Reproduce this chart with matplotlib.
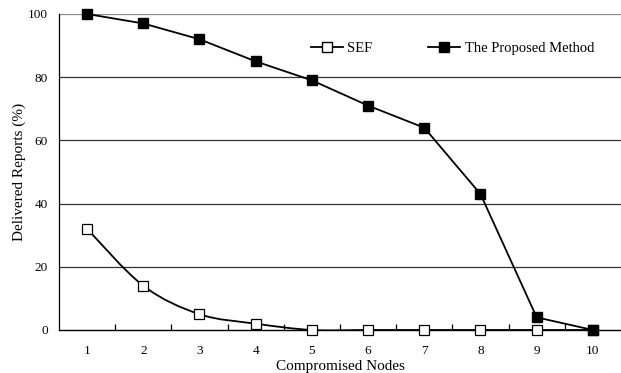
import matplotlib.pyplot as plt
import numpy as np
from matplotlib.path import Path
from matplotlib.patches import PathPatch
from matplotlib.lines import Line2D

plt.rcParams["font.family"] = ["Liberation Serif", "DejaVu Serif"]

nodes = [1, 2, 3, 4, 5, 6, 7, 8, 9, 10]
sef = [32, 14, 5, 2, 0, 0, 0, 0, 0, 0]
proposed = [100, 97, 92, 85, 79, 71, 64, 43, 4, 0]
y_ticks = [0, 20, 40, 60, 80, 100]


def smooth_path(xs, ys, t=0.5):
    # excel style smoothed line: cubic bezier through every point
    xs = np.asarray(xs, float)
    ys = np.asarray(ys, float)
    verts = [(xs[0], ys[0])]
    codes = [Path.MOVETO]
    n = len(xs)
    for i in range(n - 1):
        p0 = (xs[max(i - 1, 0)], ys[max(i - 1, 0)])
        p1 = (xs[i], ys[i])
        p2 = (xs[i + 1], ys[i + 1])
        p3 = (xs[min(i + 2, n - 1)], ys[min(i + 2, n - 1)])
        c1 = (p1[0] + (p2[0] - p0[0]) * t / 3, p1[1] + (p2[1] - p0[1]) * t / 3)
        c2 = (p2[0] - (p3[0] - p1[0]) * t / 3, p2[1] - (p3[1] - p1[1]) * t / 3)
        verts += [c1, c2, p2]
        codes += [Path.CURVE4] * 3
    return Path(verts, codes)


fig = plt.figure(figsize=(6.21, 3.73), dpi=100)
ax = fig.add_axes([0.095, 0.1153, 0.905, 0.8472])

for y in y_ticks[1:]:
    ax.axhline(y, color="#888888" if y == 100 else "#333333", lw=0.9, zorder=1)

ax.add_patch(PathPatch(smooth_path(nodes, sef), fill=False, ec="black", lw=1.3, zorder=2))
ax.plot(nodes, sef, ls="none", marker="s", ms=7.5, mfc="white", mec="black",
        mew=0.9, zorder=3, clip_on=False)
ax.plot(nodes, proposed, color="black", lw=1.3, marker="s", ms=7.5, mfc="black",
        mec="black", zorder=3, clip_on=False)

ax.set_xlim(0.5, 10.5)
ax.set_ylim(0, 100)
ax.set_xticks(nodes)
ax.set_xticks(np.arange(1.5, 10.5, 1), minor=True)
ax.set_yticks(y_ticks)
ax.tick_params(axis="x", which="major", length=0, labelsize=9.5, pad=10.5)
ax.tick_params(axis="x", which="minor", direction="in", length=4, width=0.9)
ax.tick_params(axis="y", length=0, labelsize=9.5, pad=8)

for s in ["top", "right"]:
    ax.spines[s].set_visible(False)
ax.spines["left"].set_linewidth(0.9)
ax.spines["bottom"].set_linewidth(1.0)

ax.set_xlabel("Compromised Nodes", fontsize=11, labelpad=2.5)
ax.set_ylabel("Delivered Reports (%)", fontsize=11, labelpad=1)

handles = [
    Line2D([], [], color="black", lw=1.3, marker="s", ms=7.5, mfc="white", mec="black"),
    Line2D([], [], color="black", lw=1.3, marker="s", ms=7.5, mfc="black", mec="black"),
]
ax.legend(handles, ["SEF", "The Proposed Method"], ncol=2, frameon=False,
          fontsize=10.5, handlelength=2.2, handletextpad=0.3, columnspacing=3.8,
          loc="center", bbox_to_anchor=(0.70, 0.89))

fig.savefig("out.png", dpi=100)
